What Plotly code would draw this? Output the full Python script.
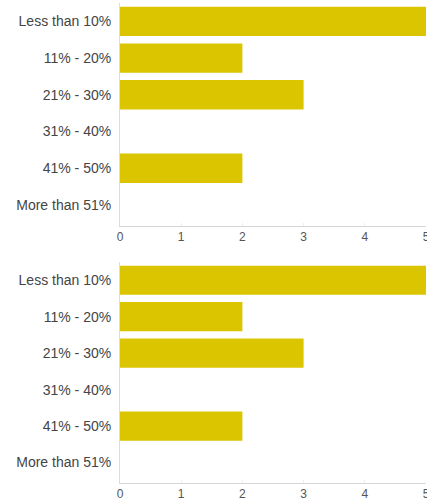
import plotly.graph_objects as go
from plotly.subplots import make_subplots

categories = ["Less than 10%", "11% - 20%", "21% - 30%", "31% - 40%", "41% - 50%", "More than 51%"]
values_top = [5, 2, 3, 0, 2, 0]
values_bottom = [5, 2, 3, 0, 2, 0]
x_ticks = [0, 1, 2, 3, 4, 5]

BAR = "rgb(219,197,0)"

fig = make_subplots(rows=2, cols=1)
fig.add_trace(go.Bar(y=categories, x=values_top, orientation="h",
                     marker=dict(color=BAR, line=dict(width=0)), width=0.8), row=1, col=1)
fig.add_trace(go.Bar(y=categories, x=values_bottom, orientation="h",
                     marker=dict(color=BAR, line=dict(width=0)), width=0.8), row=2, col=1)

H = 504
plot_h = H - 21

def dom(top_px, bot_px):
    return [(plot_h - bot_px) / plot_h, (plot_h - top_px) / plot_h]

xaxis_common = dict(range=[0, 5], tickvals=x_ticks, showgrid=False, zeroline=False,
                    showline=True, linecolor="#d6d6d6", linewidth=1,
                    ticks="inside", ticklen=3, tickcolor="#eeeeee",
                    ticklabeloverflow="allow", automargin=False,
                    tickfont=dict(family="Liberation Sans, Arial", size=12, color="#555"),
                    fixedrange=True)
yaxis_common = dict(categoryorder="array", categoryarray=categories,
                    range=[5.56, -0.5], showgrid=False, zeroline=False,
                    showline=True, linecolor="#dcdcdc", linewidth=1, ticks="",
                    ticklabelstandoff=5, automargin=False,
                    tickfont=dict(family="Liberation Sans, Arial", size=14, color="#444"))

fig.update_layout(
    width=427, height=H,
    margin=dict(l=120, r=1, t=0, b=21),
    paper_bgcolor="white", plot_bgcolor="white",
    showlegend=False,
    xaxis=dict(**xaxis_common, domain=[0, 1]),
    xaxis2=dict(**xaxis_common, domain=[0, 1]),
    yaxis=dict(**yaxis_common, domain=dom(3, 225.5)),
    yaxis2=dict(**yaxis_common, domain=dom(262, 483)),
)

fig.write_html("out.html")
